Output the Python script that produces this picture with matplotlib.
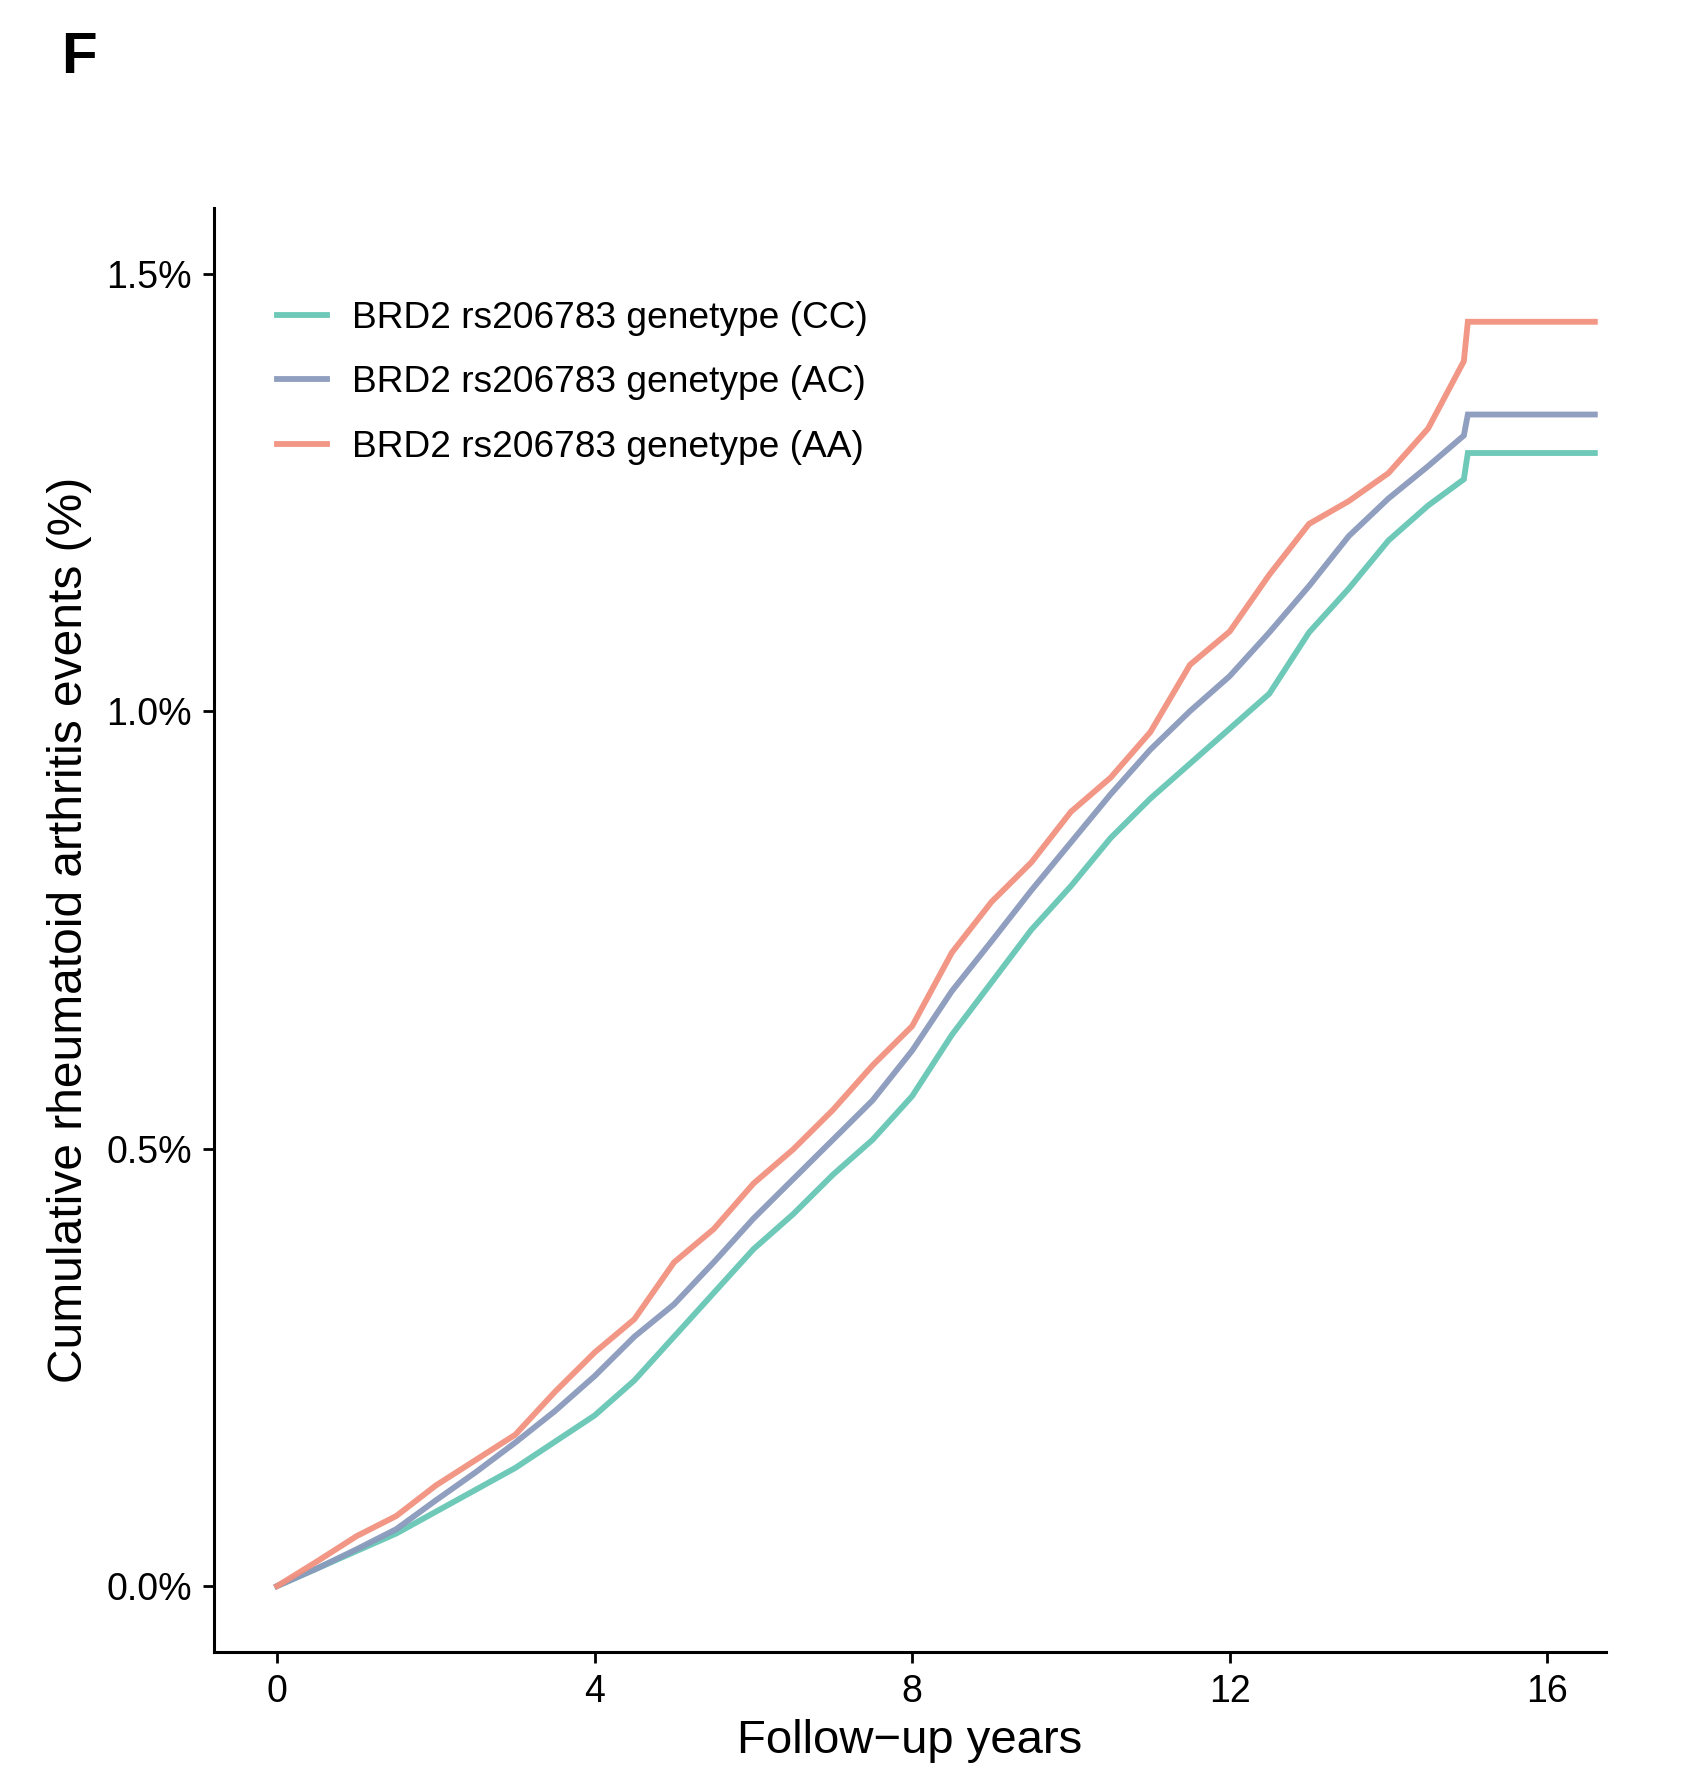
import matplotlib

matplotlib.use("Agg")

import matplotlib.pyplot as plt

plt.rcParams["font.family"] = ["Liberation Sans", "DejaVu Sans"]

# follow-up years at which the curves were read
years = [0, 0.5, 1, 1.5, 2, 2.5, 3, 3.5, 4, 4.5, 5, 5.5, 6, 6.5, 7, 7.5, 8,
         8.5, 9, 9.5, 10, 10.5, 11, 11.5, 12, 12.5, 13, 13.5, 14, 14.5, 14.95,
         15.0, 16.6]

# cumulative incidence (%) per genotype
cc = [0, 0.02, 0.04, 0.06, 0.085, 0.11, 0.135, 0.165, 0.195, 0.235, 0.285,
      0.335, 0.385, 0.425, 0.47, 0.51, 0.56, 0.63, 0.69, 0.75, 0.80, 0.855,
      0.90, 0.94, 0.98, 1.02, 1.09, 1.14, 1.195, 1.235, 1.265, 1.295, 1.295]
ac = [0, 0.02, 0.042, 0.065, 0.098, 0.13, 0.164, 0.20, 0.24, 0.285, 0.322,
      0.37, 0.42, 0.465, 0.51, 0.555, 0.612, 0.68, 0.737, 0.795, 0.85, 0.905,
      0.956, 1.0, 1.04, 1.09, 1.143, 1.20, 1.243, 1.28, 1.315, 1.339, 1.339]
aa = [0, 0.028, 0.057, 0.080, 0.115, 0.144, 0.173, 0.222, 0.267, 0.305, 0.37,
      0.408, 0.46, 0.499, 0.544, 0.595, 0.64, 0.724, 0.782, 0.827, 0.885,
      0.924, 0.976, 1.053, 1.091, 1.156, 1.214, 1.24, 1.272, 1.323, 1.40,
      1.445, 1.445]

series_labels = [
    "BRD2 rs206783 genetype (CC)",
    "BRD2 rs206783 genetype (AC)",
    "BRD2 rs206783 genetype (AA)",
]
colors = ["#66C6B5", "#8A9ABC", "#F2917F"]

x_ticks = [0, 4, 8, 12, 16]
y_ticks = [0.0, 0.5, 1.0, 1.5]
y_tick_labels = ["0.0%", "0.5%", "1.0%", "1.5%"]

fig = plt.figure(figsize=(16.91, 17.69), dpi=100)
ax = fig.add_axes([0.1266, 0.0661, 0.8231, 0.8163])

for values, label, color in zip([cc, ac, aa], series_labels, colors):
    ax.plot(years, values, color=color, lw=4.2, label=label, alpha=0.95,
            solid_joinstyle="miter")

ax.set_xlim(-0.795, 16.74)
ax.set_ylim(-0.0755, 1.575)
ax.set_xticks(x_ticks)
ax.set_yticks(y_ticks)
ax.set_yticklabels(y_tick_labels)
ax.tick_params(axis="both", labelsize=27, length=8, width=2, direction="out",
               pad=8, colors="black")

for side in ["top", "right"]:
    ax.spines[side].set_visible(False)
for side in ["left", "bottom"]:
    ax.spines[side].set_linewidth(2.2)

ax.set_xlabel("Follow\u2212up years", fontsize=34, labelpad=6)
ax.set_ylabel("Cumulative rheumatoid arthritis events (%)", fontsize=34.5,
              labelpad=10)

ax.legend(loc="upper left", bbox_to_anchor=(0.021, 0.959), frameon=False,
          fontsize=26.7, handlelength=1.37, handletextpad=0.67,
          labelspacing=0.8)

fig.text(0.036, 0.967, "F", fontsize=42, fontweight="bold", ha="left",
         va="center")

fig.savefig("out.png", dpi=100)
